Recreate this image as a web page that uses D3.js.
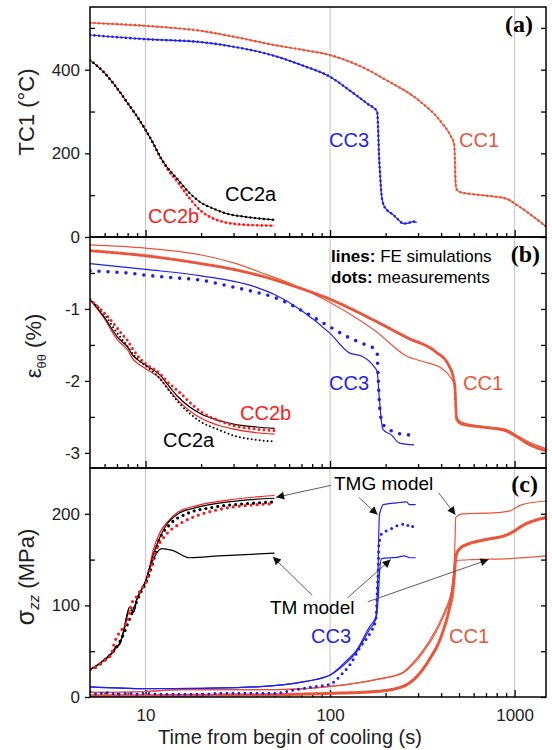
<!DOCTYPE html>
<html>
<head>
<meta charset="utf-8">
<title>TC1, hoop strain and axial stress during cooling</title>
<script src="https://cdn.jsdelivr.net/npm/d3@7"></script>
<style>
  body { margin: 0; background: #fff; }
  svg { font-family: Arial, "Liberation Sans", sans-serif; }
  .frame { fill: none; stroke: #000; stroke-width: 1.5; }
  .grid { stroke: #c4c4c4; stroke-width: 1; }
  .axis path { display: none; }
  .axis line { stroke: #000; stroke-width: 1.3; }
  .axis text { font-size: 17px; fill: #222; font-family: Arial, "Liberation Sans", sans-serif; }
  .tag { font-family: "Liberation Serif", "DejaVu Serif", serif; font-weight: bold; font-size: 24px; }
</style>
</head>
<body>
<script>
var C_CC1 = "#e8563b", C_CC3 = "#1f1ff0", C_RED = "#ff1a1a", C_BLK = "#000";

// axis ticks
var xMajor = [10, 100, 1000];
var xMinor = [6, 7, 8, 9, 20, 30, 40, 50, 60, 70, 80, 90, 200, 300, 400, 500, 600, 700, 800, 900];

// ---- panel (a): TC1 temperature (degC) ----
var aT_CC1 = [5, 7, 10, 15, 20, 30, 50, 70, 100, 150, 200, 300, 400, 450, 470, 475, 478, 482, 490, 520, 600, 700, 800, 880, 950, 1000, 1100, 1200, 1350, 1480];
var aV_CC1 = [512, 509, 505, 499, 493, 479, 459, 448, 435, 406, 376, 328, 275, 242, 223, 185, 137, 118, 111, 106, 102, 99, 96, 93, 87, 80, 68, 56, 39, 25];
var aT_CC3 = [5, 10, 20, 30, 50, 70, 100, 130, 160, 180, 182, 184, 187, 190, 195, 205, 220, 235, 250, 265, 280, 295];
var aV_CC3 = [483, 473, 466, 455, 433, 411, 383, 348, 318, 300, 264, 200, 145, 101, 77, 63, 53, 41, 32, 33, 37, 35];
var aT_CC2 = [5, 6, 7, 8, 9, 10, 11, 12, 13, 15, 17, 20, 23, 27, 35, 50];
var aV_CC2a = [423, 392, 356, 320, 288, 256, 224, 192, 169, 137, 109, 82, 69, 57, 48, 41];
var aV_CC2b = [423, 392, 356, 320, 288, 256, 224, 191, 165, 130, 97, 62, 45, 35, 29, 27];

// ---- panel (b): hoop strain (%) ----
var bT_CC1fe = [5, 10, 20, 30, 45, 60, 100, 177, 262, 318, 405, 455, 475, 480, 485, 520, 665, 890, 1005, 1195, 1480];
var bV_CC1fe = [-0.11, -0.155, -0.25, -0.36, -0.52, -0.64, -0.91, -1.31, -1.66, -1.73, -1.83, -1.97, -2.07, -2.35, -2.5, -2.58, -2.63, -2.67, -2.74, -2.85, -2.94];
var bT_CC1ms = [5, 10, 20, 30, 45, 60, 100, 177, 262, 371, 439, 466, 475, 480, 485, 520, 665, 890, 1005, 1195, 1480];
var bV_CC1ms = [-0.19, -0.26, -0.37, -0.45, -0.56, -0.66, -0.865, -1.17, -1.40, -1.59, -1.78, -1.96, -2.1, -2.35, -2.53, -2.60, -2.64, -2.69, -2.76, -2.88, -2.97];
var bT_CC3fe = [5, 10, 20, 40, 50, 70, 100, 127, 150, 173, 180, 185, 193, 217, 236, 285];
var bV_CC3fe = [-0.37, -0.45, -0.54, -0.70, -0.80, -1.02, -1.34, -1.61, -1.66, -1.80, -1.87, -2.25, -2.67, -2.76, -2.86, -2.89];
var bT_CC3ms = [5, 6, 7, 8, 10, 12, 15, 20, 28, 40, 50, 57, 70, 100, 127, 150, 177, 180, 182, 185, 190, 197, 210, 235, 260, 290];
var bV_CC3ms = [-0.47, -0.48, -0.49, -0.5, -0.53, -0.55, -0.57, -0.60, -0.68, -0.77, -0.84, -0.90, -1.02, -1.25, -1.40, -1.48, -1.57, -1.62, -1.9, -2.3, -2.55, -2.63, -2.68, -2.73, -2.75, -2.75];
var bT_CC2 = [5, 6, 7, 7.5, 8, 8.5, 9, 10, 12, 13, 15, 20, 25, 30, 40, 50];
var bV_CC2a_fe = [-0.87, -1.12, -1.38, -1.46, -1.53, -1.64, -1.7, -1.78, -1.92, -2.03, -2.22, -2.46, -2.55, -2.60, -2.64, -2.66];
var bV_CC2b_fe = [-0.87, -1.14, -1.42, -1.5, -1.57, -1.69, -1.75, -1.83, -1.97, -2.08, -2.27, -2.52, -2.62, -2.67, -2.72, -2.74];
var bV_CC2a_ms = [-0.87, -1.08, -1.33, -1.43, -1.52, -1.62, -1.69, -1.79, -1.97, -2.09, -2.29, -2.57, -2.68, -2.76, -2.82, -2.84];
var bV_CC2b_ms = [-0.87, -1.06, -1.26, -1.36, -1.44, -1.55, -1.64, -1.76, -1.90, -2.00, -2.14, -2.43, -2.55, -2.62, -2.67, -2.69];

// ---- panel (c): axial stress (MPa) ----
var cT_CC2fe = [5, 5.5, 6, 6.5, 7, 7.2, 7.6, 8.2, 8.6, 8.9, 9.5, 10, 10.5, 11, 12, 13, 15, 19, 28, 50];
var cV_CC2a_tmg = [30, 35, 41, 47, 56, 57, 72, 98, 93, 105, 117, 126, 140, 155, 175, 188, 200, 207, 213, 217];
var cV_CC2b_tmg = [30, 35, 40, 46, 54, 58, 70, 95, 92, 104, 117, 127, 142, 160, 180, 190, 202, 209, 215, 220];
var cT_CC2a_tm = [5, 5.5, 6, 6.5, 7, 7.2, 7.6, 8.2, 8.6, 8.9, 9.5, 10, 10.5, 11, 12.2, 14, 17.4, 25, 50];
var cV_CC2a_tm = [30, 35, 41, 47, 56, 57, 72, 98, 93, 105, 117, 126, 140, 150, 162, 160, 152, 154, 157];
var cT_CC2a_ms = [5, 5.5, 6, 6.5, 7, 7.5, 8, 8.5, 9, 9.5, 10, 11, 11.7, 13.5, 16.7, 23, 35, 50];
var cV_CC2a_ms = [30, 34, 40, 47, 55, 66, 80, 93, 105, 116, 124, 148, 168, 188, 200, 207, 211, 213];
var cT_CC2b_ms = [5, 5.4, 5.9, 6.5, 6.8, 7.1, 7.7, 8.1, 8.4, 8.9, 9.5, 10, 11.5, 13, 15.3, 19, 23, 28.6, 35, 49];
var cV_CC2b_ms = [30, 33, 39, 46, 60, 68, 78, 87, 102, 109, 118, 124, 162, 178, 189, 198, 203, 207, 209, 211];
var cT_CC3_tmg = [5, 10, 20, 40, 74, 100, 122, 139, 164, 177, 182, 185, 188, 194, 230, 260, 269, 291];
var cV_CC3_tmg = [11, 9, 9.5, 11, 17, 24, 39, 51, 77, 87, 140, 198, 204, 210, 212, 213, 210, 210];
var cT_CC3_tm = [5, 10, 20, 40, 74, 100, 122, 139, 164, 177, 181, 183, 186, 190, 230, 254, 269, 291];
var cV_CC3_tm = [11, 9, 9.5, 11, 17, 24, 37, 49, 74, 85, 100, 113, 140, 151, 152.5, 154, 152, 152];
var cT_CC3_ms = [5, 5.5, 6, 7, 8, 9, 10, 12, 14, 17, 20, 25, 30, 40, 50, 65, 84, 100, 117, 129, 146, 164, 177, 180, 183, 184, 186, 190, 211, 230, 260, 269, 291];
var cV_CC3_ms = [6, 3, 5, 3, 4, 3, 4, 3, 3, 3, 3, 4, 4, 4, 4, 8, 11.5, 14, 26, 36, 55, 69, 84, 113, 149, 167, 172, 178, 183, 187, 189, 185, 188];
var cT_CC1_tmg = [5, 10, 16, 50, 100, 177, 248, 280, 317, 371, 418, 454, 467, 475, 480, 520, 756, 933, 1100, 1480];
var cV_CC1_tmg = [5, 6, 8, 8, 11.5, 19, 26, 35, 48, 69, 91, 113, 131, 167, 196, 200, 201, 203, 210, 214];
var cT_CC1_tm = [5, 10, 16, 50, 100, 177, 248, 280, 317, 371, 418, 454, 467, 475, 485, 594, 933, 1480];
var cV_CC1_tm = [5, 6, 8, 8, 11.5, 19, 27, 37, 50, 72, 94, 116, 134, 145, 149, 150, 151, 154];
var cT_CC1_ms = [5, 10, 20, 50, 100, 177, 248, 291, 343, 405, 445, 466, 475, 485, 505, 560, 665, 933, 1150, 1480];
var cV_CC1_ms = [1.5, 1.5, 2, 2.5, 4, 6, 11.5, 21, 40, 69, 98, 120, 142, 156, 162, 167, 171, 178, 189, 196];

// arrows in panel (c): [t0, v0, t1, v1] (tail -> head)
var tmgArrows = [[101, 231, 51, 218], [143, 218, 181, 199], [387, 223, 478, 199]];
var tmArrows = [[80, 111, 49, 153], [124, 108, 213, 150], [160, 104, 722, 150]];

var W = 552, H = 750;
var svg = d3.select("body").append("svg").attr("width", W).attr("height", H);

var x = d3.scaleLog().domain([5, 1480]).range([90, 546]);

var panels = [
  {top: 7, bottom: 237, y: d3.scaleLinear().domain([0, 550]).range([237, 7]), major: [0, 200, 400], minor: [100, 300, 500]},
  {top: 237, bottom: 468, y: d3.scaleLinear().domain([-3.21, 0]).range([468, 237]), major: [-3, -2, -1], minor: [-2.5, -1.5, -0.5]},
  {top: 468, bottom: 697, y: d3.scaleLinear().domain([0, 250]).range([697, 468]), major: [0, 100, 200], minor: [50, 150]}
];

var defs = svg.append("defs");
defs.append("marker").attr("id", "head")
    .attr("viewBox", "0 0 10 10").attr("refX", 10).attr("refY", 5)
    .attr("markerWidth", 11).attr("markerHeight", 8).attr("markerUnits", "userSpaceOnUse")
    .attr("orient", "auto")
  .append("path").attr("d", "M0,0 L10,5 L0,10 z").attr("fill", "#111");

panels.forEach(function(p, i) {
  defs.append("clipPath").attr("id", "clip" + i)
    .append("rect").attr("x", 90).attr("y", p.top).attr("width", 456).attr("height", p.bottom - p.top);

  svg.append("g").selectAll("line").data(xMajor).enter().append("line")
      .attr("class", "grid")
      .attr("x1", d => x(d)).attr("x2", d => x(d))
      .attr("y1", p.top).attr("y2", p.bottom);

  // left axis: majors out with labels, minors in
  svg.append("g").attr("class", "axis").attr("transform", "translate(90,0)")
      .call(d3.axisLeft(p.y).tickValues(p.major).tickSize(5).tickPadding(5).tickFormat(d => String(d)));
  svg.append("g").attr("class", "axis").attr("transform", "translate(90,0)")
      .call(d3.axisLeft(p.y).tickValues(p.minor).tickSize(-5).tickFormat(""));
  svg.append("g").attr("class", "axis").attr("transform", "translate(546,0)")
      .call(d3.axisRight(p.y).tickValues(p.major.concat(p.minor)).tickSize(-5).tickFormat(""));

  // bottom log ticks pointing inward
  svg.append("g").attr("class", "axis").attr("transform", "translate(0," + p.bottom + ")")
      .call(d3.axisBottom(x).tickValues(xMajor).tickSize(-7).tickPadding(12)
        .tickFormat(i === 2 ? d3.format("d") : ""));
  svg.append("g").attr("class", "axis").attr("transform", "translate(0," + p.bottom + ")")
      .call(d3.axisBottom(x).tickValues(xMinor).tickSize(-4).tickFormat(""));

  p.g = svg.append("g").attr("clip-path", "url(#clip" + i + ")");
});

function pts(t, v) { return d3.zip(t, v); }

function curve(i, t, v, color, w) {
  var p = panels[i];
  p.g.append("path").datum(pts(t, v))
      .attr("d", d3.line().x(d => x(d[0])).y(d => p.y(d[1])).curve(d3.curveMonotoneX))
      .attr("fill", "none").attr("stroke", color).attr("stroke-width", w)
      .attr("stroke-linejoin", "round");
}

function dots(i, t, v, color, size, gap) {
  var p = panels[i];
  p.g.append("path").datum(pts(t, v))
      .attr("d", d3.line().x(d => x(d[0])).y(d => p.y(d[1])).curve(d3.curveMonotoneX))
      .attr("fill", "none").attr("stroke", color).attr("stroke-width", size)
      .attr("stroke-linecap", "round").attr("stroke-dasharray", "0 " + gap);
}

// panel (a)
curve(0, aT_CC1, aV_CC1, C_CC1, 1.2);  dots(0, aT_CC1, aV_CC1, C_CC1, 2.6, 4.5);
curve(0, aT_CC3, aV_CC3, C_CC3, 1.2);  dots(0, aT_CC3, aV_CC3, C_CC3, 2.6, 4.5);
curve(0, aT_CC2, aV_CC2b, C_RED, 0.6); dots(0, aT_CC2, aV_CC2b, C_RED, 2.8, 4.5);
curve(0, aT_CC2, aV_CC2a, C_BLK, 1);   dots(0, aT_CC2, aV_CC2a, C_BLK, 2.4, 4.5);

// panel (b)
curve(1, bT_CC1fe, bV_CC1fe, C_CC1, 1.2);
dots(1, bT_CC1ms, bV_CC1ms, C_CC1, 3.2, 2.2);
curve(1, bT_CC3fe, bV_CC3fe, C_CC3, 1.2);
dots(1, bT_CC3ms, bV_CC3ms, C_CC3, 3.6, 9);
curve(1, bT_CC2, bV_CC2b_fe, C_RED, 1.2);
curve(1, bT_CC2, bV_CC2a_fe, C_BLK, 1.2);
dots(1, bT_CC2, bV_CC2a_ms, C_BLK, 2, 4);
dots(1, bT_CC2, bV_CC2b_ms, C_RED, 3, 5);

// panel (c)
curve(2, cT_CC1_tmg, cV_CC1_tmg, C_CC1, 1.2);
curve(2, cT_CC1_tm, cV_CC1_tm, C_CC1, 1.2);
dots(2, cT_CC1_ms, cV_CC1_ms, C_CC1, 3.4, 2);
curve(2, cT_CC3_tmg, cV_CC3_tmg, C_CC3, 1.2);
curve(2, cT_CC3_tm, cV_CC3_tm, C_CC3, 1.2);
dots(2, cT_CC3_ms, cV_CC3_ms, C_CC3, 3, 6);
curve(2, cT_CC2fe, cV_CC2b_tmg, C_RED, 1.2);
curve(2, cT_CC2fe, cV_CC2a_tmg, C_BLK, 1.2);
curve(2, cT_CC2a_tm, cV_CC2a_tm, C_BLK, 1.2);
dots(2, cT_CC2a_ms, cV_CC2a_ms, C_BLK, 3.2, 6);
dots(2, cT_CC2b_ms, cV_CC2b_ms, C_RED, 3.2, 6);

// frames
panels.forEach(function(p) {
  svg.append("rect").attr("class", "frame")
      .attr("x", 90).attr("y", p.top).attr("width", 456).attr("height", p.bottom - p.top);
});

// arrows
var pc = panels[2];
svg.append("g").selectAll("line").data(tmgArrows.concat(tmArrows)).enter().append("line")
    .attr("x1", d => x(d[0])).attr("y1", d => pc.y(d[1]))
    .attr("x2", d => x(d[2])).attr("y2", d => pc.y(d[3]))
    .attr("stroke", "#333").attr("stroke-width", 0.8)
    .attr("marker-end", "url(#head)");

// text labels
function label(txt, px, py, color, size, anchor) {
  return svg.append("text").attr("x", px).attr("y", py).attr("fill", color)
      .attr("font-size", size || 20).attr("text-anchor", anchor || "start").text(txt);
}
label("CC2a", 225, 201, C_BLK);
label("CC2b", 148, 223, C_RED);
label("CC3", 329, 147, C_CC3);
label("CC1", 459, 147, C_CC1);
svg.append("text").attr("class", "tag").attr("x", 533).attr("y", 32).attr("text-anchor", "end").text("(a)");

var leg = svg.append("g").attr("font-size", 17);
var l1 = leg.append("text").attr("x", 331).attr("y", 262);
l1.append("tspan").attr("font-weight", "bold").text("lines:");
l1.append("tspan").text(" FE simulations");
var l2 = leg.append("text").attr("x", 331).attr("y", 283);
l2.append("tspan").attr("font-weight", "bold").text("dots:");
l2.append("tspan").text(" measurements");
svg.append("text").attr("class", "tag").attr("x", 540).attr("y", 262).attr("text-anchor", "end").text("(b)");
label("CC3", 329, 390, C_CC3);
label("CC1", 463, 390, C_CC1);
label("CC2b", 240, 420, C_RED);
label("CC2a", 163, 447, C_BLK);

label("TMG model", 334, 490, "#000", 19);
label("TM model", 270, 614, "#000", 19);
label("CC3", 311, 643, C_CC3);
label("CC1", 449, 643, C_CC1);
svg.append("text").attr("class", "tag").attr("x", 538).attr("y", 492).attr("text-anchor", "end").text("(c)");

// axis titles
svg.append("text").attr("transform", "translate(34,112) rotate(-90)")
    .attr("text-anchor", "middle").attr("font-size", 22).attr("fill", "#222").text("TC1 (°C)");
var eb = svg.append("text").attr("transform", "translate(41,346) rotate(-90)")
    .attr("text-anchor", "middle").attr("font-size", 22).attr("fill", "#222");
eb.append("tspan").text("ε");
eb.append("tspan").attr("font-size", 13).attr("dy", 5).text("θθ");
eb.append("tspan").attr("dy", -5).text(" (%)");
var sc = svg.append("text").attr("transform", "translate(34,577) rotate(-90)")
    .attr("text-anchor", "middle").attr("font-size", 22).attr("fill", "#222");
sc.append("tspan").attr("font-size", 25).text("σ");
sc.append("tspan").attr("font-size", 15).attr("font-style", "italic").attr("dy", 5).text("zz");
sc.append("tspan").attr("dy", -5).text(" (MPa)");
svg.append("text").attr("x", 290).attr("y", 744).attr("text-anchor", "middle")
    .attr("font-size", 20).attr("fill", "#222").text("Time from begin of cooling (s)");
</script>
</body>
</html>
